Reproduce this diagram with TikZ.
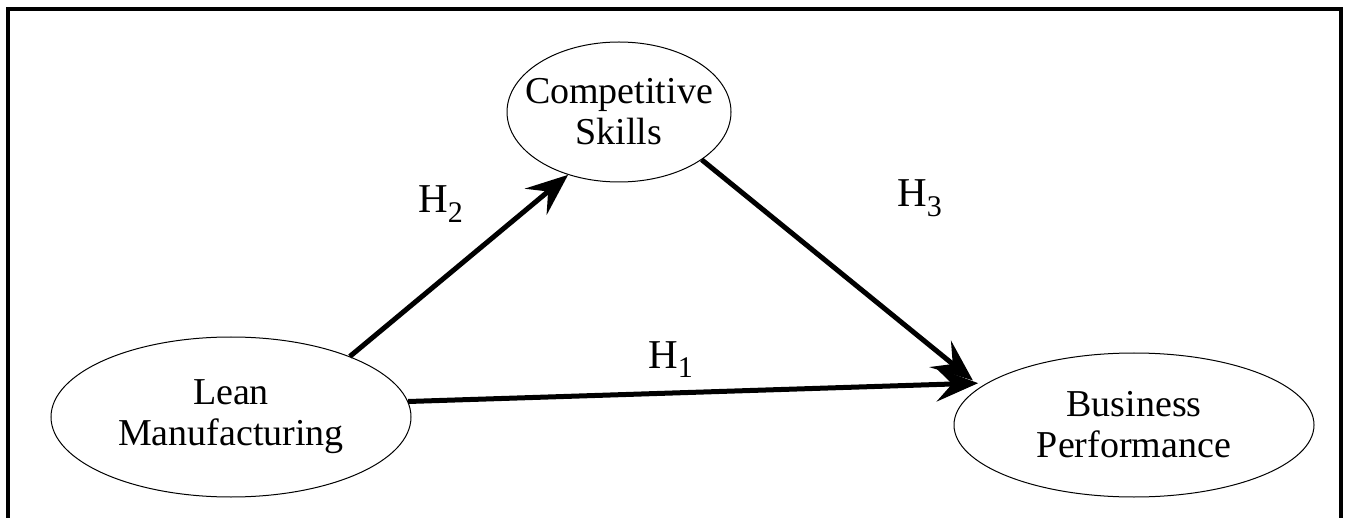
\documentclass[tikz,border=0pt]{standalone}
\usepackage{fontspec}
\setmainfont{Liberation Serif}
\usetikzlibrary{shapes.geometric,arrows.meta}
\newcommand\hyp[1]{H\raisebox{-0.22em}{\fontsize{30}{30}\selectfont #1}}
\begin{document}
\begin{tikzpicture}[x=1pt,y=-1pt,
  ell/.style={ellipse,draw,line width=1pt,inner xsep=-40pt,inner ysep=0pt,align=center,font=\fontsize{38}{41}\selectfont},
  conn/.style={line width=5pt,-{Stealth[length=42pt,width=34pt,inset=16pt]}},
  hlab/.style={anchor=base west,inner sep=0pt,font=\fontsize{41}{41}\selectfont}]
\useasboundingbox (0,0) rectangle (1346,518);
\draw[line width=3.5pt] (8,522) -- (8,9) -- (1341,9) -- (1341,522);
\node[ell,minimum width=224pt,minimum height=140pt] (cs) at (619,112) {Competitive\\Skills};
\node[ell,minimum width=360pt,minimum height=160pt] (lm) at (231,417) {Lean\\Manufacturing};
\node[ell,minimum width=360pt,minimum height=144pt] (bp) at (1134,425) {Business\\Performance};
\draw[conn] (lm.27) -- (cs.231);
\draw[conn,shorten >=9pt] (lm.5) -- (bp.164);
\draw[conn,shorten >=10pt] (cs.330) -- (bp.166);
\node[hlab] (h2) at (418,213) {\hyp{2}};
\node[hlab] (h1) at (648,368) {\hyp{1}};
\node[hlab] (h3) at (897,207) {\hyp{3}};
\end{tikzpicture}
\end{document}
